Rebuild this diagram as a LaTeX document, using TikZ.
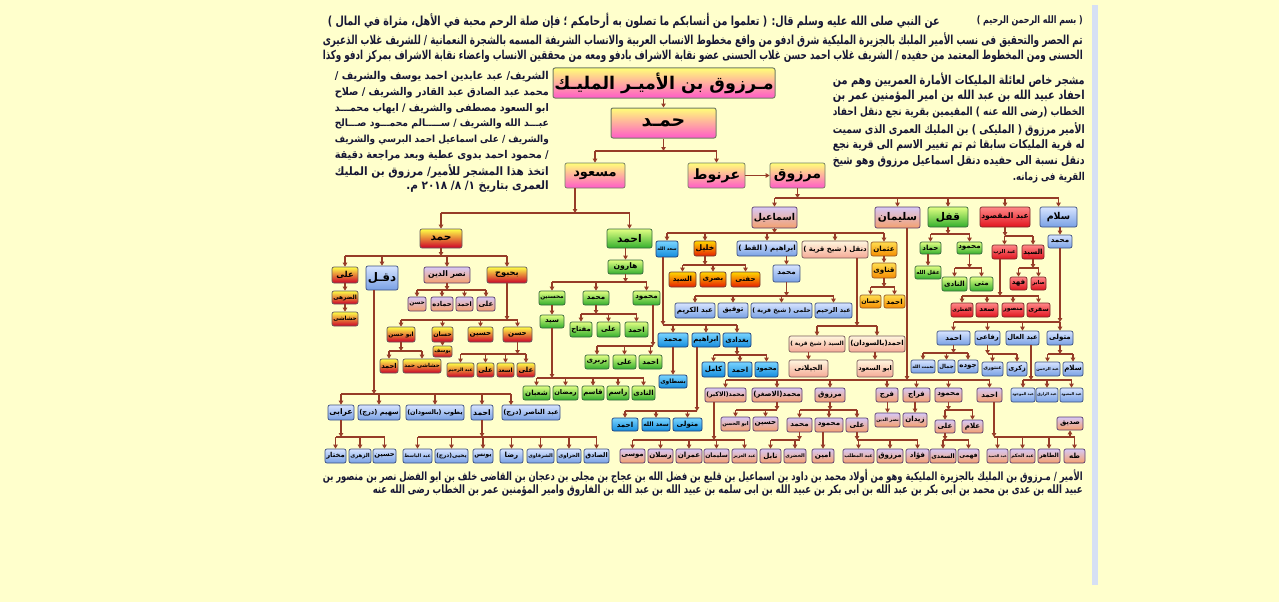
\documentclass[tikz,border=0pt]{standalone}
\usepackage{fontspec}
\usepackage{graphicx}
\usetikzlibrary{arrows.meta}
\TeXXeTstate=1
\newfontfamily\arabicfont[Script=Arabic]{DejaVu Sans}
\newcommand\AR[1]{{\arabicfont\bfseries\beginR #1\endR}}
\newsavebox\fitbx
\newlength\fitw
\newcommand\FIT[2]{\sbox\fitbx{\AR{#2}}\ifdim\wd\fitbx>#1\resizebox{#1}{!}{\usebox\fitbx}\else\usebox\fitbx\fi}
\newcommand\JL[2]{\sbox\fitbx{\AR{#2}}\ifdim\wd\fitbx>#1\resizebox{#1}{!}{\usebox\fitbx}\else\makebox[#1][s]{\AR{#2}}\fi}
\newcommand\VS[2]{\scalebox{1}[#1]{#2}}
\definecolor{bgc}{RGB}{255,255,204}
\definecolor{txt}{RGB}{22,22,52}
\definecolor{cc}{RGB}{150,60,40}
\definecolor{stripc}{RGB}{214,224,244}
\tikzset{
  bx/.style={draw, rounded corners=2pt, inner sep=0pt, line width=0.7pt},
  pyel/.style={bx, top color={rgb,255:red,255;green,255;blue,120}, bottom color={rgb,255:red,255;green,90;blue,200}, draw={rgb,255:red,115;green,125;blue,100}},
  yred/.style={bx, top color={rgb,255:red,255;green,255;blue,70}, middle color={rgb,255:red,255;green,120;blue,40}, bottom color={rgb,255:red,205;green,0;blue,40}, draw={rgb,255:red,100;green,90;blue,90}},
  sgreen/.style={bx, top color={rgb,255:red,225;green,255;blue,130}, bottom color={rgb,255:red,50;green,175;blue,45}, draw={rgb,255:red,55;green,105;blue,60}},
  sblue/.style={bx, top color={rgb,255:red,215;green,228;blue,255}, bottom color={rgb,255:red,120;green,160;blue,228}, draw={rgb,255:red,60;green,80;blue,130}},
  scyan/.style={bx, top color={rgb,255:red,120;green,212;blue,255}, bottom color={rgb,255:red,20;green,140;blue,220}, draw={rgb,255:red,30;green,60;blue,120}},
  sorred/.style={bx, top color={rgb,255:red,255;green,215;blue,0}, bottom color={rgb,255:red,230;green,30;blue,0}, draw={rgb,255:red,110;green,60;blue,50}},
  sorange/.style={bx, top color={rgb,255:red,255;green,222;blue,80}, bottom color={rgb,255:red,245;green,140;blue,0}, draw={rgb,255:red,150;green,90;blue,40}},
  sred/.style={bx, top color={rgb,255:red,255;green,135;blue,135}, bottom color={rgb,255:red,225;green,20;blue,30}, draw={rgb,255:red,120;green,40;blue,40}},
  slav/.style={bx, top color={rgb,255:red,215;green,200;blue,245}, bottom color={rgb,255:red,244;green,160;blue,110}, draw={rgb,255:red,90;green,60;blue,110}},
  speach/.style={bx, top color={rgb,255:red,255;green,246;blue,222}, bottom color={rgb,255:red,245;green,170;blue,150}, draw={rgb,255:red,120;green,90;blue,90}},
  conn/.style={draw=cc, line width=1.2pt},
  arr/.style={conn, -{Triangle[length=4pt,width=4.5pt]}},
  tline/.style={inner sep=0pt, text=txt}
}
\newcommand\B[8]{%
  \pgfmathsetlength\fitw{#4-#3-2.5}%
  \pgfmathsetmacro\fsz{#8*1.18}%
  \node[#2, minimum width={#4-#3}, minimum height={#6-#5}] (#1) at ({(#3+#4)/2},{(#5+#6)/2}) {\fontsize{\fsz}{\fsz}\selectfont\FIT{\fitw}{#7}};}
\newcommand\FAM[3]{%
  \coordinate (busref) at (0,#2);
  \draw[arr] (#1) -- (#1 |- busref);
  \foreach \ch in {#3}{\draw[conn] (#1 |- busref) -- (\ch.north |- busref); \draw[arr] (\ch.north |- busref) -- (\ch.north);}}
\newcommand\DIR[2]{\draw[arr] (#2.north |- #1.south) -- (#2.north);}
\newcommand\HS{\fontsize{11.5}{11.5}\selectfont}
\newcommand\PS{\fontsize{10.5}{10.5}\selectfont}
\begin{document}
\begin{tikzpicture}[x=1pt,y=-1pt]
\useasboundingbox (0,0) rectangle (1279,602);
\fill[bgc] (0,0) rectangle (1279,602);
\fill[stripc] (1092,5) rectangle (1098,585);

% ---------- header ----------
\node[tline, anchor=east] (h1a) at (1083,21) {\HS\VS{1.3}{\JL{106pt}{( بسم الله الرحمن الرحيم )}}};
\node[tline, anchor=east] (h1b) at (940,21) {\HS\VS{1.3}{\JL{612pt}{عن النبي صلى الله عليه وسلم قال: ( تعلموا من أنسابكم ما تصلون به أرحامكم ؛ فإن صلة الرحم محبة في الأهل، مثراة في المال )}}};
\node[tline, anchor=east] (h2) at (1083,40) {\HS\VS{1.4}{\JL{760pt}{تم الحصر والتحقيق فى نسب الأمير الملبك بالجزيرة المليكية شرق ادفو من واقع مخطوط الانساب العربية والانساب الشريفة المسمه بالشجرة النعمانية / للشريف غلاب الذعيرى}}};
\node[tline, anchor=east] (h3) at (1083,56) {\HS\VS{1.4}{\JL{760pt}{الحسنى ومن المخطوط المعتمد من حفيده / الشريف غلاب احمد حسن غلاب الحسنى عضو نقابة الاشراف بادفو ومعه من محققين الانساب واعضاء نقابة الاشراف بمركز ادفو وكذا}}};

% ---------- left paragraph ----------
\node[tline, anchor=east] (l1) at (549,77) {\PS\VS{1.1}{\JL{214pt}{الشريف/ عبد عابدين احمد يوسف والشريف /}}};
\node[tline, anchor=east] (l2) at (549,93) {\PS\VS{1.1}{\JL{214pt}{محمد عبد الصادق عبد القادر والشريف / صلاح}}};
\node[tline, anchor=east] (l3) at (549,108.5) {\PS\VS{1.1}{\JL{214pt}{ابو السعود مصطفى والشريف / ايهاب محمـــد}}};
\node[tline, anchor=east] (l4) at (549,124) {\PS\VS{1.1}{\JL{214pt}{عبـــد الله والشريف / ســـــالم محمـــود صـــالح}}};
\node[tline, anchor=east] (l5) at (549,140) {\PS\VS{1.1}{\JL{214pt}{والشريف / على اسماعيل احمد البرسي والشريف}}};
\node[tline, anchor=east] (l6) at (549,155.5) {\PS\VS{1.1}{\JL{214pt}{/ محمود احمد بدوى عطية وبعد مراجعة دقيقة}}};
\node[tline, anchor=east] (l7) at (549,171) {\PS\VS{1.1}{\JL{214pt}{اتخذ هذا المشجر للأمير/ مرزوق بن المليك}}};
\node[tline, anchor=east] (l8) at (549,187) {\PS\VS{1.1}{\FIT{148pt}{العمرى بتاريخ ١/ ٨/ ٢٠١٨ م.}}};

% ---------- right paragraph ----------
\node[tline, anchor=east] (r1) at (1085,80) {\PS\VS{1.25}{\JL{252pt}{مشجر خاص لعائلة المليكات الأمارة العمريين وهم من}}};
\node[tline, anchor=east] (r2) at (1085,96.3) {\PS\VS{1.25}{\JL{252pt}{احفاد عبيد الله بن عبد الله بن امير المؤمنين عمر بن}}};
\node[tline, anchor=east] (r3) at (1085,112.6) {\PS\VS{1.25}{\JL{252pt}{الخطاب (رضى الله عنه ) المقيمين بقرية نجع دنقل احفاد}}};
\node[tline, anchor=east] (r4) at (1085,129) {\PS\VS{1.25}{\JL{252pt}{الأمير مرزوق ( المليكى ) بن المليك العمرى الذى سميت}}};
\node[tline, anchor=east] (r5) at (1085,145.2) {\PS\VS{1.25}{\JL{252pt}{له قرية المليكات سابقا ثم تم تغيير الاسم الى قرية نجع}}};
\node[tline, anchor=east] (r6) at (1085,161.5) {\PS\VS{1.25}{\JL{252pt}{دنقل نسبة الى حفيده دنقل اسماعيل مرزوق وهو شيخ}}};
\node[tline, anchor=east] (r7) at (1085,177.8) {\PS\VS{1.25}{\FIT{72pt}{القرية فى زمانه.}}};

% ---------- bottom ----------
\node[tline, anchor=east] (f1) at (1083,476) {\PS\VS{1.35}{\JL{760pt}{الأمير / مـرزوق بن المليك بالجزيرة المليكية وهو من أولاد محمد بن داود بن اسماعيل بن قليع بن فضل الله بن عجاج بن مجلى بن دعجان بن القاضى خلف بن ابو الفضل نصر بن منصور بن}}};
\node[tline, anchor=east] (f2) at (1083,491) {\PS\VS{1.35}{\JL{710pt}{عبيد الله بن عدى بن محمد بن ابى بكر بن عبد الله بن ابى بكر بن عبيد الله بن ابى سلمه بن عبيد الله بن عبد الله بن الفاروق وامير المؤمنين عمر بن الخطاب رضى الله عنه}}};

% ---------- top of tree ----------
\B{root}{pyel,line width=1pt}{553}{775}{68}{98}{مـرزوق بن الأميـر المليـك}{16}
\B{hamd0}{pyel,line width=1pt}{611}{716}{108}{138}{حمـد}{16}
\B{masud}{pyel}{565}{625}{163}{188}{مسعود}{11}
\B{arnut}{pyel}{688}{745}{163}{188}{عرنوط}{12}
\B{marzuq}{pyel}{770}{825}{163}{188}{مرزوق}{12}
\DIR{root}{hamd0}
\FAM{hamd0.south}{151}{masud,arnut}
\draw[arr] (arnut.east) -- (marzuq.west);

\B{ismail}{slav}{752}{797}{207}{228}{اسماعيل}{8}
\B{sulaiman}{slav}{875}{920}{207}{228}{سليمان}{9}
\B{qufl}{sgreen}{928}{968}{207}{227}{قفل}{9}
\B{abdmaq}{sred}{980}{1030}{207}{227}{عبد المقصود}{7}
\B{salam}{sblue}{1040}{1077}{207}{227}{سلام}{8}
\FAM{marzuq.south}{198}{ismail,sulaiman,qufl,abdmaq,salam}

\B{hamdL}{yred}{420}{462}{229}{248}{حمد}{9}
\B{ahmadG}{sgreen}{607}{652}{229}{248}{احمد}{9}
\coordinate (msd) at (575,188);
\FAM{msd}{213}{hamdL,ahmadG}

% ---------- left subtree ----------
\B{aliA}{yred}{332}{358}{267}{283}{على}{7}
\B{daqal}{sblue}{366}{398}{266}{290}{دقـل}{10}
\B{nasr}{slav}{424}{470}{267}{283}{نصر الدين}{6.5}
\B{bahbuh}{yred}{487}{527}{267}{283}{بحبوح}{7}
\FAM{hamdL.south}{256}{aliA,daqal,nasr,bahbuh}
\B{aliB}{yred}{332}{358}{291}{304}{الضرهى}{6}
\B{aliC}{yred}{332}{358}{312}{326}{حشاشى}{6}
\DIR{aliA}{aliB}
\DIR{aliB}{aliC}
\B{nA}{slav}{408}{426}{297}{311}{حسن}{6}
\B{nB}{slav}{431}{453}{297}{311}{حماده}{6}
\B{nC}{slav}{456}{473}{297}{311}{احمد}{6}
\B{nD}{slav}{477}{495}{297}{311}{على}{6}
\FAM{nasr.south}{290}{nA,nB,nC,nD}
\B{bA}{yred}{387}{415}{327}{342}{ابو حسن}{6}
\B{bB}{yred}{432}{453}{327}{342}{حسان}{6}
\B{bC}{yred}{468}{493}{327}{342}{حسين}{6}
\B{bD}{yred}{503}{532}{327}{342}{حسن}{6}
\FAM{bahbuh.south}{320}{bA,bB,bC,bD}
\B{bAa}{yred}{380}{398}{359}{373}{احمد}{6}
\B{bAb}{yred}{403}{441}{359}{373}{حشاشى حمد}{6}
\FAM{bA.south}{351}{bAa,bAb}
\B{bBa}{yred}{433}{452}{346}{357}{يوسف}{5.5}
\DIR{bB}{bBa}
\B{bDa}{yred}{447}{474}{363}{377}{عبد الرحيم}{6}
\B{bDb}{yred}{477}{494}{363}{377}{على}{6}
\B{bDc}{yred}{497}{514}{363}{377}{اسعد}{6}
\B{bDd}{yred}{517}{535}{363}{377}{على}{6}
\FAM{bD.south}{354}{bDa,bDb,bDc,bDd}

\B{dA}{sblue}{328}{354}{405}{420}{عرابى}{6.5}
\B{dB}{sblue}{358}{400}{405}{420}{سهيم (درج)}{6.5}
\B{dC}{sblue}{406}{464}{405}{420}{يطوب (بالسودان)}{6.5}
\B{dD}{sblue}{471}{493}{405}{420}{احمد}{6.5}
\B{dE}{sblue}{502}{560}{405}{420}{عبد الناصر (درج)}{6.5}
\coordinate (dqd) at (374,290);
\FAM{dqd}{394}{dA,dB,dC,dD}
\coordinate (dEb) at (511,394);
\coordinate (dEt) at (511,405);
\draw[conn] (dqd |- dEb) -- (dEb);
\draw[arr] (dEb) -- (dEt);
\B{dAa}{sblue}{325}{346}{449}{463}{مختار}{6}
\B{dAb}{sblue}{349}{371}{449}{463}{الزهرى}{6}
\B{dAc}{sblue}{373}{396}{449}{463}{حسين}{6}
\FAM{dA.south}{437}{dAa,dAb,dAc}
\B{eA}{sblue}{403}{432}{449}{463}{عبد الباسط}{6}
\B{eB}{sblue}{435}{468}{449}{463}{يحيى(درج)}{6}
\B{eC}{sblue}{473}{493}{449}{463}{يونس}{6}
\B{eD}{sblue}{500}{523}{449}{463}{رضا}{6}
\B{eE}{sblue}{527}{554}{449}{463}{الشرقاوى}{6}
\B{eF}{sblue}{557}{581}{449}{463}{الحراوى}{6}
\B{eG}{sblue}{584}{609}{449}{463}{الصادق}{6}
\FAM{dD.south}{437}{eA,eB,eC,eD,eE,eF,eG}

% ---------- green subtree ----------
\B{harun}{sgreen}{608}{643}{260}{274}{هارون}{6.5}
\DIR{ahmadG}{harun}
\B{gA}{sgreen}{539}{565}{291}{305}{محسنين}{6}
\B{gB}{sgreen}{583}{609}{291}{305}{محمد}{6}
\B{gC}{sgreen}{633}{660}{291}{305}{محمود}{6}
\FAM{harun.south}{282}{gA,gB,gC}
\B{gAa}{sgreen}{540}{564}{315}{328}{سيد}{6}
\DIR{gA}{gAa}
\B{sA}{sgreen}{523}{550}{386}{400}{شعبان}{6}
\B{sB}{sgreen}{553}{578}{386}{400}{رمضان}{6}
\B{sC}{sgreen}{582}{604}{386}{400}{قاسم}{6}
\B{sD}{sgreen}{607}{629}{386}{400}{راسم}{6}
\B{sE}{sgreen}{632}{655}{386}{400}{النادى}{6}
\FAM{gAa.south}{378}{sA,sB,sC,sD,sE}
\B{mA}{sgreen}{570}{592}{322}{337}{مفتاح}{6}
\B{mB}{sgreen}{597}{620}{322}{337}{على}{6}
\B{mC}{sgreen}{625}{648}{322}{337}{احمد}{6}
\FAM{gB.south}{314}{mA,mB,mC}
\B{kA}{sgreen}{585}{609}{355}{369}{بربرى}{6}
\B{kB}{sgreen}{613}{636}{355}{369}{على}{6}
\B{kC}{sgreen}{639}{662}{355}{369}{احمد}{6}
\coordinate (gCd) at (653,305);
\FAM{gCd}{346}{kA,kB,kC}

% ---------- Ismail subtree ----------
\B{sad}{scyan}{656}{678}{241}{257}{سعد الله}{6}
\B{khalil}{sorred}{694}{716}{241}{256}{خليل}{6.5}
\B{ibr}{sblue}{737}{797}{241}{256}{ابراهيم ( القط )}{6.5}
\B{dunq}{speach}{802}{868}{241}{258}{دنقل ( شيخ قرية )}{6.5}
\B{uth}{sorange}{871}{897}{242}{256}{عثمان}{6}
\FAM{ismail.south}{233}{sad,khalil,ibr,dunq,uth}
\B{khA}{sorred}{669}{696}{272}{287}{السيد}{6}
\B{khB}{sorred}{700}{726}{272}{287}{بصرى}{6}
\B{khC}{sorred}{731}{760}{272}{287}{حفنى}{6}
\FAM{khalil.south}{265}{khA,khB,khC}
\B{saA}{scyan}{658}{688}{333}{347}{محمد}{6}
\B{saB}{scyan}{692}{720}{333}{347}{ابراهيم}{6}
\B{saC}{scyan}{723}{751}{333}{347}{بغدادى}{6}
\coordinate (sadd) at (663,257);
\FAM{sadd}{325}{saA,saB,saC}
\B{bast}{scyan}{659}{687}{375}{388}{بسطاوى}{6}
\DIR{saA}{bast}
\B{ibA}{scyan}{612}{638}{418}{431}{احمد}{6}
\B{ibB}{scyan}{642}{670}{418}{431}{سعد الله}{6}
\B{ibC}{scyan}{673}{702}{418}{431}{متولى}{6}
\coordinate (sabd) at (697,347);
\FAM{sabd}{411}{ibA,ibB,ibC}
\B{bgA}{scyan}{702}{725}{362}{377}{كامل}{6}
\B{bgB}{scyan}{728}{752}{362}{377}{احمد}{6}
\B{bgC}{scyan}{755}{778}{362}{377}{محمود}{6}
\FAM{saC.south}{355}{bgA,bgB,bgC}
\B{mh}{sblue}{773}{800}{265}{282}{محمد}{6}
\DIR{ibr}{mh}
\B{mhA}{sblue}{675}{715}{303}{318}{عبد الكريم}{6}
\B{mhB}{sblue}{718}{748}{303}{318}{توفيق}{6}
\B{mhC}{sblue}{751}{812}{303}{318}{حلمى ( شيخ قرية )}{6}
\B{mhD}{sblue}{815}{852}{303}{318}{عبد الرحيم}{6}
\FAM{mh.south}{296}{mhA,mhB,mhC,mhD}
\B{duA}{speach}{789}{845}{336}{352}{السيد ( شيخ قرية )}{6}
\B{duB}{speach}{849}{905}{336}{352}{احمد(بالسودان)}{6}
\coordinate (dund) at (857,258);
\FAM{dund}{326}{duA,duB}
\B{jil}{speach}{789}{828}{360}{377}{الجيلانى}{6}
\B{abus}{speach}{857}{893}{360}{377}{ابو السعود}{6}
\DIR{duA}{jil}
\DIR{duB}{abus}
\B{qin}{sorange}{872}{896}{263}{278}{قناوى}{6}
\DIR{uth}{qin}
\B{qA}{sorange}{860}{881}{295}{308}{حسان}{6}
\B{qB}{sorange}{884}{905}{295}{308}{احمد}{6}
\FAM{qin.south}{287}{qA,qB}

% ---------- Sulaiman subtree ----------
\B{suA}{slav}{705}{746}{388}{402}{محمد(الاكبر)}{6}
\B{suB}{slav}{752}{802}{388}{402}{محمد(الاصغر)}{6}
\B{suC}{slav}{815}{845}{388}{402}{مرزوق}{6}
\B{suD}{slav}{876}{898}{388}{402}{فرج}{6}
\B{suE}{slav}{903}{930}{388}{402}{فراج}{6}
\B{suF}{slav}{935}{962}{388}{402}{محمود}{6}
\B{suG}{slav}{977}{1002}{388}{402}{احمد}{6}
\coordinate (suld) at (907,228);
\FAM{suld}{380}{suA,suB,suC,suD,suE,suF,suG}
\B{btA}{slav}{620}{645}{449}{463}{موسى}{6}
\B{btB}{slav}{648}{673}{449}{463}{رسلان}{6}
\B{btC}{slav}{676}{702}{449}{463}{عمران}{6}
\B{btD}{slav}{704}{729}{449}{463}{سليمان}{6}
\B{btE}{slav}{732}{757}{449}{463}{عبد العزيز}{6}
\coordinate (suAd) at (714,402);
\FAM{suAd}{440}{btA,btB,btC,btD,btE}
\B{suBa}{slav}{721}{750}{417}{431}{ابو الحسن}{6}
\B{suBb}{slav}{753}{778}{417}{431}{حسين}{6}
\FAM{suB.south}{410}{suBa,suBb}
\B{mzA}{slav}{787}{812}{418}{432}{محمد}{6}
\B{mzB}{slav}{815}{843}{418}{432}{محمود}{6}
\B{mzC}{slav}{846}{868}{418}{432}{على}{6}
\FAM{suC.south}{410}{mzA,mzB,mzC}
\B{btF}{slav}{760}{781}{449}{463}{نابل}{6}
\B{btG}{slav}{784}{806}{449}{463}{الخضرى}{6}
\FAM{mzA.south}{440}{btF,btG}
\B{btH}{slav}{812}{834}{449}{463}{امين}{6}
\DIR{mzB}{btH}
\B{btI}{slav}{843}{874}{449}{463}{عبد المطلب}{6}
\B{btJ}{slav}{877}{903}{449}{463}{مرزوق}{6}
\B{btK}{slav}{906}{929}{449}{463}{فؤاد}{6}
\FAM{mzC.south}{440}{btI,btJ,btK}
\B{fr}{slav}{875}{900}{413}{427}{نصر الدين}{6}
\DIR{suD}{fr}
\B{zy}{slav}{903}{927}{413}{427}{زيدان}{6}
\DIR{suE}{zy}
\B{mmA}{slav}{935}{955}{420}{433}{على}{6}
\B{mmB}{slav}{962}{983}{420}{433}{علام}{6}
\FAM{suF.south}{410}{mmA,mmB}
\B{btL}{slav}{930}{956}{449}{463}{السعدى}{6}
\B{btM}{slav}{958}{979}{449}{463}{فهمى}{6}
\FAM{mmA.south}{440}{btL,btM}
\B{btN}{slav}{987}{1008}{449}{463}{عبد الحميد}{6}
\B{btO}{slav}{1010}{1035}{449}{463}{عبد الحكم}{6}
\B{btP}{slav}{1038}{1060}{449}{463}{الطاهر}{6}
\B{btQ}{slav}{1064}{1085}{449}{463}{طه}{6}
\coordinate (suGd) at (994,402);
\FAM{suGd}{437}{btN,btO,btP,btQ}
\B{sdq}{slav}{1057}{1083}{417}{430}{صديق}{6}
\draw[arr] (sdq.south |- busref) -- (sdq.south);

% ---------- Qufl subtree ----------
\B{qfA}{sgreen}{920}{941}{242}{254}{حماد}{6}
\B{qfB}{sgreen}{957}{982}{242}{254}{محمود}{6}
\FAM{qufl.south}{234}{qfA,qfB}
\B{qfAa}{sgreen}{915}{941}{266}{279}{عقل الله}{6}
\DIR{qfA}{qfAa}
\B{qfBa}{sgreen}{942}{967}{277}{291}{النادى}{6}
\B{qfBb}{sgreen}{970}{993}{277}{291}{متى}{6}
\FAM{qfB.south}{268}{qfBa,qfBb}

% ---------- Abd al-Maqsud subtree ----------
\B{amA}{sred}{992}{1017}{245}{259}{عبد الرب}{6}
\B{amB}{sred}{1022}{1044}{245}{259}{السيد}{6}
\FAM{abdmaq.south}{236}{amA,amB}
\B{amAa}{sred}{951}{973}{303}{317}{القطرى}{6}
\B{amAb}{sred}{976}{998}{303}{317}{سعد}{6}
\B{amAc}{sred}{1002}{1024}{303}{317}{منصور}{6}
\B{amAd}{sred}{1027}{1050}{303}{317}{سقرى}{6}
\coordinate (amAdrop) at (1000,259);
\FAM{amAdrop}{296}{amAa,amAb,amAc,amAd}
\B{amBa}{sred}{1010}{1027}{277}{290}{فهد}{6}
\B{amBb}{sred}{1031}{1046}{277}{290}{صابر}{6}
\FAM{amB.south}{268}{amBa,amBb}

% ---------- Salam subtree ----------
\B{sm}{sblue}{1048}{1072}{235}{248}{محمد}{6}
\DIR{salam}{sm}
\B{slA}{sblue}{937}{970}{331}{345}{احمد}{6}
\B{slB}{sblue}{975}{1000}{331}{345}{رفاعى}{6}
\B{slC}{sblue}{1006}{1039}{331}{345}{عبد العال}{6}
\B{slD}{sblue}{1047}{1073}{331}{345}{متولى}{6}
\coordinate (smd) at (1060,248);
\FAM{smd}{322}{slA,slB,slC,slD}
\B{slAa}{sblue}{911}{935}{360}{373}{نعمت الله}{6}
\B{slAb}{sblue}{938}{955}{360}{373}{جمال}{6}
\B{slAc}{sblue}{958}{978}{360}{373}{جوده}{6}
\FAM{slA.south}{353}{slAa,slAb,slAc}
\B{slBa}{sblue}{982}{1003}{362}{376}{عنتورى}{6}
\B{slBb}{sblue}{1007}{1027}{362}{376}{زكرى}{6}
\FAM{slB.south}{354}{slBa,slBb}
\B{slCa}{sblue}{1011}{1035}{388}{402}{عبد الموجود}{6}
\B{slCb}{sblue}{1036}{1058}{388}{402}{عبد الرازق}{6}
\B{slCc}{sblue}{1060}{1083}{388}{402}{عبد المعبود}{6}
\coordinate (slCd) at (1031,345);
\FAM{slCd}{380}{slCa,slCb,slCc}
\B{slDa}{sblue}{1035}{1060}{362}{376}{عبد الرحمن}{6}
\B{slDb}{sblue}{1063}{1083}{362}{376}{سلام}{6}
\FAM{slD.south}{354}{slDa,slDb}
\end{tikzpicture}
\end{document}
